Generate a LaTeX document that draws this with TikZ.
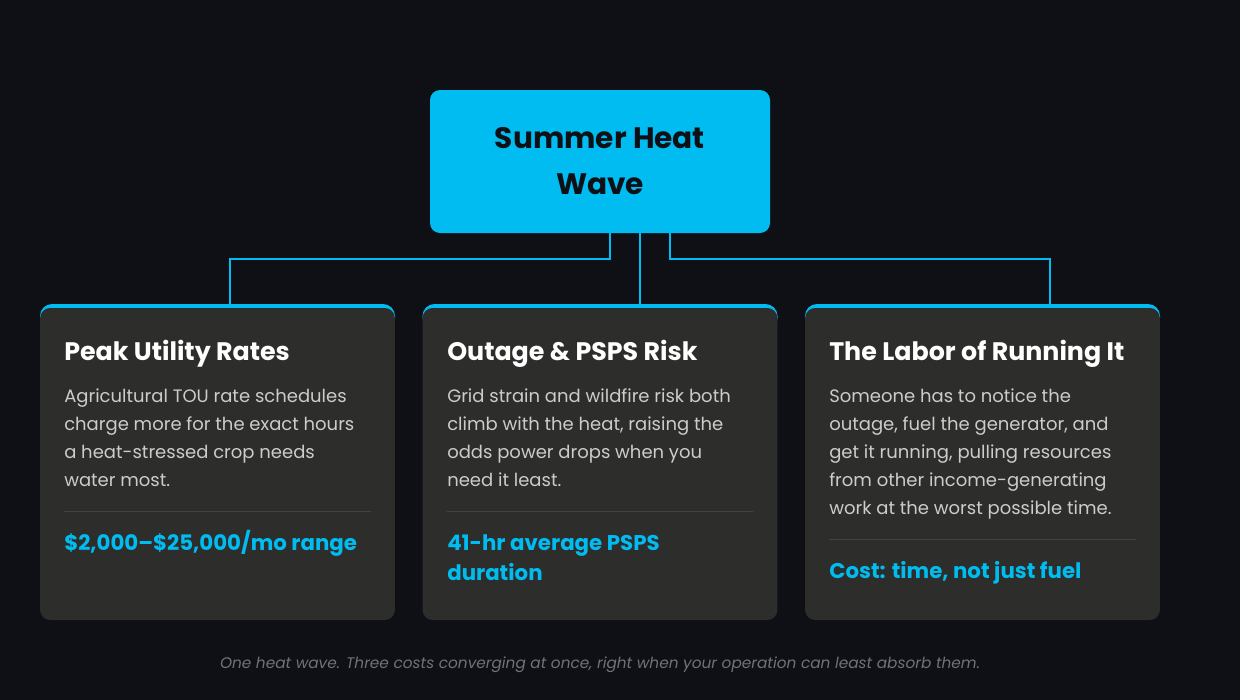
\documentclass[tikz,border=0pt]{standalone}
\usepackage{fontspec}
\setmainfont{Poppins}
\usetikzlibrary{calc,positioning}
\definecolor{pagebg}{RGB}{14,16,21}
\definecolor{heatcyan}{RGB}{0,188,240}
\definecolor{cardgray}{RGB}{45,45,43}
\definecolor{bodygray}{RGB}{204,204,204}
\definecolor{rulegray}{RGB}{66,66,66}
\definecolor{notegray}{RGB}{112,114,120}
\tikzset{
  headbox/.style={rectangle, rounded corners=7.5pt, fill=heatcyan, minimum width=255pt,
    minimum height=107.25pt, align=center, text=pagebg, font=\bfseries\fontsize{22.2}{34.5}\selectfont},
  cardbox/.style={rectangle, rounded corners=7.5pt, fill=cardgray, minimum width=266pt, minimum height=234pt},
  link/.style={draw=heatcyan, line width=1.6pt},
  cardtitle/.style={anchor=base west, inner sep=0, text=white, font=\bfseries\fontsize{19}{22}\selectfont},
  cardbody/.style={anchor=base west, inner sep=0, align=left, text=bodygray, font=\fontsize{13.5}{21}\selectfont},
  cardstat/.style={anchor=base west, inner sep=0, align=left, text=heatcyan, font=\bfseries\fontsize{16}{22.5}\selectfont},
  sepline/.style={draw=rulegray, line width=0.75pt},
  note/.style={inner sep=0, text=notegray, font=\itshape\fontsize{11.5}{14}\selectfont}
}

\begin{document}
\begin{tikzpicture}[x=0.75pt,y=-0.75pt]
  % page
  \fill[pagebg] (0,0) rectangle (1240,700);
  % cards with cyan top edge
  \foreach \n/\x in {1/217.5,2/600,3/982.5} {
    \fill[heatcyan, rounded corners=9pt] (\x-177.5,304) rectangle (\x+177.5,330);
    \node[cardbox] (card\n) at (\x,464) {};
  }
  % top node
  \node[headbox] (wave) at (600,161.5) {Summer Heat\\Wave};
  % connectors
  \coordinate (j1) at (230,259);
  \coordinate (j3) at (1050,259);
  \draw[link] ($(wave.south)+(10,0)$) |- (j1) -- (j1 |- card1.north);
  \draw[link] ($(wave.south)+(40,0)$) -- ($(wave.south |- card2.north)+(40,0)$);
  \draw[link] ($(wave.south)+(70,0)$) |- (j3) -- (j3 |- card3.north);
  % card 1 (multi-line nodes sit on their last baseline)
  \node[cardtitle] (t1) at (64,360) {Peak Utility Rates};
  \node[cardbody] (b1) at (64,486) {Agricultural TOU rate schedules\\charge more for the exact hours\\a heat-stressed crop needs\\water most.};
  \draw[sepline] (64,511) -- (371,511);
  \node[cardstat] (s1) at (64,550) {\$2,000–\$25,000/mo range};
  % card 2
  \node[cardtitle] (t2) at (447,360) {Outage \& PSPS Risk};
  \node[cardbody] (b2) at (447,486) {Grid strain and wildfire risk both\\climb with the heat, raising the\\odds power drops when you\\need it least.};
  \draw[sepline] (447,511) -- (753,511);
  \node[cardstat] (s2) at (447,580) {41-hr average PSPS\\duration};
  % card 3
  \node[cardtitle] (t3) at (829,360) {The Labor of Running It};
  \node[cardbody] (b3) at (829,514) {Someone has to notice the\\outage, fuel the generator, and\\get it running, pulling resources\\from other income-generating\\work at the worst possible time.};
  \draw[sepline] (829,539) -- (1136,539);
  \node[cardstat] (s3) at (829,578) {Cost: time, not just fuel};
  % caption
  \node[note] (cap) at (600,665) {One heat wave. Three costs converging at once, right when your operation can least absorb them.};
\end{tikzpicture}
\end{document}
